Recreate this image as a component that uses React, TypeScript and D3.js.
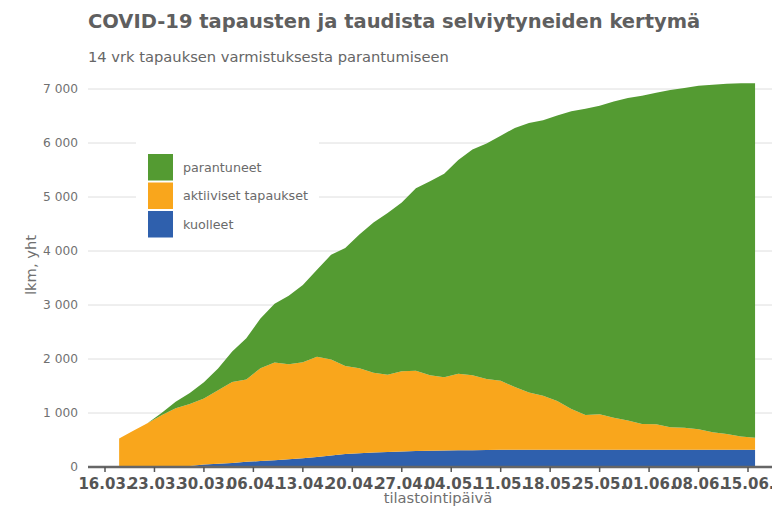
import { useEffect, useRef } from 'react';
import * as d3 from 'd3';

// tilastointipäivä (every second day)
const dates = [
  '18.03', '20.03', '22.03', '24.03', '26.03', '28.03', '30.03', '01.04', '03.04', '05.04',
  '07.04', '09.04', '11.04', '13.04', '15.04', '17.04', '19.04', '21.04', '23.04', '25.04',
  '27.04', '29.04', '01.05', '03.05', '05.05', '07.05', '09.05', '11.05', '13.05', '15.05',
  '17.05', '19.05', '21.05', '23.05', '25.05', '27.05', '29.05', '31.05', '02.06', '04.06',
  '06.06', '08.06', '10.06', '12.06', '14.06', '16.06',
];

const kuolleet = [
  0, 0, 0, 3, 7, 20, 45, 60, 75, 95,
  110, 125, 145, 160, 185, 215, 240, 255, 270, 280,
  288, 295, 300, 305, 308, 312, 315, 318, 320, 320,
  320, 320, 320, 320, 320, 320, 320, 320, 320, 320,
  320, 320, 320, 320, 320, 320,
];

const aktiiviset = [
  530, 670, 810, 957, 1083, 1145, 1225, 1360, 1500, 1525,
  1720, 1810, 1760, 1780, 1855, 1775, 1630, 1575, 1475, 1430,
  1487, 1487, 1400, 1355, 1417, 1388, 1315, 1280, 1160, 1060,
  1000, 900, 755, 643, 655, 590, 540, 478, 472, 415,
  405, 378, 325, 290, 245, 223,
];

const parantuneet = [
  0, 0, 0, 40, 120, 205, 300, 405, 565, 765,
  920, 1090, 1265, 1430, 1615, 1940, 2185, 2475, 2785, 2995,
  3125, 3378, 3590, 3770, 3960, 4180, 4360, 4537, 4800, 4990,
  5100, 5290, 5515, 5672, 5715, 5860, 5975, 6075, 6138, 6245,
  6295, 6360, 6435, 6485, 6540, 6562,
];

const tickLabels = [
  '16.03.', '23.03.', '30.03.', '06.04.', '13.04.', '20.04.', '27.04.',
  '04.05.', '11.05.', '18.05.', '25.05.', '01.06.', '08.06.', '15.06.',
];

const yTicks = [0, 1000, 2000, 3000, 4000, 5000, 6000, 7000];

const seriesKeys = ['kuolleet', 'aktiiviset', 'parantuneet'];
const seriesNames = { kuolleet: 'kuolleet', aktiiviset: 'aktiiviset tapaukset', parantuneet: 'parantuneet' };
const colors = { kuolleet: '#2f60ad', aktiiviset: '#f9a61c', parantuneet: '#549b32' };

const FONT = 'DejaVu Sans, sans-serif';

export default function App() {
  const svgRef = useRef(null);

  useEffect(() => {
    const el = svgRef.current;
    if (!el) return;
    d3.select(el).selectAll('*').remove();
    const svg = d3.select(el);

    const parse = d3.timeParse('%d.%m.%Y');
    const rows = dates.map((d, i) => ({
      date: parse(d + '.2020'),
      kuolleet: kuolleet[i],
      aktiiviset: aktiiviset[i],
      parantuneet: parantuneet[i],
    }));

    const tickDates = tickLabels.map((t) => parse(t + '2020'));
    const x = d3.scaleTime()
      .domain([tickDates[0], tickDates[tickDates.length - 1]])
      .range([105, 748]);
    const y = d3.scaleLinear().domain([0, 7000]).range([467, 89]);
    const left = 88, right = 772;

    const fmt = d3.formatLocale({ decimal: ',', thousands: '\u00a0', grouping: [3], currency: ['', ''] }).format(',d');

    // Title
    svg.append('text')
      .attr('x', 88).attr('y', 28)
      .attr('fill', '#5f5f5f')
      .attr('font-size', '19.5px')
      .attr('font-weight', 'bold')
      .attr('font-family', FONT)
      .text('COVID-19 tapausten ja taudista selviytyneiden kertymä');

    svg.append('text')
      .attr('x', 88).attr('y', 62)
      .attr('fill', '#666')
      .attr('font-size', '14.7px')
      .attr('font-family', FONT)
      .text('14 vrk tapauksen varmistuksesta parantumiseen');

    // Grid lines
    svg.append('g')
      .selectAll('line')
      .data(yTicks.filter((t) => t > 0))
      .join('line')
      .attr('x1', left).attr('x2', right)
      .attr('y1', (d) => y(d)).attr('y2', (d) => y(d))
      .attr('stroke', '#dedede')
      .attr('stroke-width', 1);

    // Y tick labels
    svg.append('g')
      .selectAll('text')
      .data(yTicks)
      .join('text')
      .attr('x', 78)
      .attr('y', (d) => y(d))
      .attr('dy', '0.35em')
      .attr('text-anchor', 'end')
      .attr('fill', '#707070')
      .attr('font-size', '12.2px')
      .attr('font-family', FONT)
      .text((d) => fmt(d));

    // Stacked areas
    const stack = d3.stack().keys(seriesKeys);
    const layers = stack(rows);
    const area = d3.area()
      .x((d) => x(d.data.date))
      .y0((d) => y(d[0]))
      .y1((d) => y(d[1]));

    svg.append('g')
      .selectAll('path')
      .data(layers)
      .join('path')
      .attr('fill', (d) => colors[d.key])
      .attr('d', area);

    // Legend
    const lg = svg.append('g').attr('transform', 'translate(136,141)');
    lg.append('rect').attr('width', 183).attr('height', 104).attr('fill', '#fff');
    const legendOrder = ['parantuneet', 'aktiiviset', 'kuolleet'];
    legendOrder.forEach((k, i) => {
      lg.append('rect')
        .attr('x', 12).attr('y', 13 + i * 28.5)
        .attr('width', 25).attr('height', 26.5)
        .attr('fill', colors[k]);
      lg.append('text')
        .attr('x', 47).attr('y', 26.5 + i * 28.5)
        .attr('dy', '0.35em')
        .attr('fill', '#6a6a6a')
        .attr('font-size', '12.7px')
        .attr('font-family', FONT)
        .text(seriesNames[k]);
    });

    // X axis
    svg.append('line')
      .attr('x1', left).attr('x2', right)
      .attr('y1', 467).attr('y2', 467)
      .attr('stroke', '#666')
      .attr('stroke-width', 2.5);

    svg.append('g')
      .selectAll('line')
      .data(tickDates)
      .join('line')
      .attr('x1', (d) => x(d)).attr('x2', (d) => x(d))
      .attr('y1', 467).attr('y2', 472)
      .attr('stroke', '#555')
      .attr('stroke-width', 1.5);

    svg.append('g')
      .selectAll('text')
      .data(tickLabels)
      .join('text')
      .attr('x', (d, i) => x(tickDates[i]))
      .attr('y', 489)
      .attr('text-anchor', 'middle')
      .attr('fill', '#555')
      .attr('font-size', '15px')
      .attr('font-weight', 'bold')
      .attr('font-family', FONT)
      .text((d) => d);

    // Axis titles
    svg.append('text')
      .attr('x', 438).attr('y', 503)
      .attr('text-anchor', 'middle')
      .attr('fill', '#707070')
      .attr('font-size', '14.7px')
      .attr('font-family', FONT)
      .text('tilastointipäivä');

    svg.append('text')
      .attr('transform', 'rotate(-90)')
      .attr('x', -265).attr('y', 36)
      .attr('text-anchor', 'middle')
      .attr('fill', '#707070')
      .attr('font-size', '14.7px')
      .attr('font-family', FONT)
      .text('lkm, yht');
  }, []);

  return (
    <svg
      ref={svgRef}
      width={772}
      height={508}
      style={{ position: 'absolute', left: 0, top: 0, background: '#fff' }}
    />
  );
}
